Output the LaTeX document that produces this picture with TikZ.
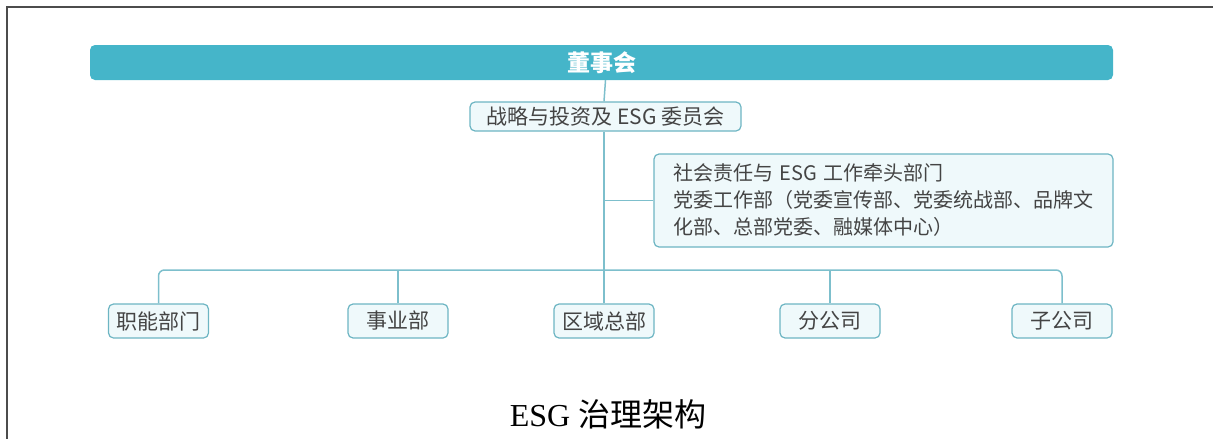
\documentclass[tikz,border=0pt]{standalone}
\usepackage{fontspec}
\setmainfont{Liberation Serif}
\newfontfamily\cjk{Noto Sans CJK SC}
\usepackage{tikz}
\usetikzlibrary{positioning}
\definecolor{barteal}{HTML}{45B5C9}
\definecolor{edgeteal}{HTML}{6DB5C3}
\definecolor{lineteal}{HTML}{7DBFCC}
\definecolor{boxfill}{HTML}{EFF9FB}
\definecolor{inktext}{HTML}{444444}

\begin{document}
\begin{tikzpicture}[x=1pt,y=-1pt,
    board/.style={draw=none,fill=barteal,rounded corners=5pt,minimum width=1023pt,
        minimum height=35pt,inner sep=0pt,text=white,font=\cjk\bfseries\fontsize{23}{26}\selectfont},
    unit/.style={draw=edgeteal,line width=1.2pt,fill=boxfill,rounded corners=5pt,
        minimum height=34pt,minimum width=100pt,inner sep=0pt,text=inktext,
        font=\cjk\fontsize{21}{24}\selectfont},
    link/.style={draw=lineteal,line width=1.5pt}]
    \useasboundingbox (0,0) rectangle (1213,439);
    % page frame
    \draw[line width=2pt,black!70] (7,439) -- (7,6.5) -- (1213,6.5);

    % Define the boxes
    \node[board] (dsh) at (601.5,62.5) {董事会};
    \node[unit,minimum width=271pt,minimum height=29pt] (cmte) at (605.5,116.5) {战略与投资及 ESG 委员会};
    \node[unit,minimum width=459pt,minimum height=93pt,text width=421pt,inner xsep=19pt,
        align=left,font=\cjk\fontsize{20}{27}\selectfont] (lead) at (883.5,200.5)
        {社会责任与 ESG 工作牵头部门\\党委工作部（党委宣传部、党委统战部、品牌文\\化部、总部党委、融媒体中心）};
    \node[unit] (func)   at (158.5,321) {职能部门};
    \node[unit] (biz)    at (398,321)   {事业部};
    \node[unit] (region) at (604,321)   {区域总部};
    \node[unit] (branch) at (830,321)   {分公司};
    \node[unit] (subco)  at (1062,321)  {子公司};
    \coordinate (hub) at (604,270);

    % Connect the boxes
    \draw[link] (dsh.south -| cmte.north) -- (cmte.north -| hub);
    \draw[link] (cmte.south -| hub) -- (hub);
    \draw[link] (lead.west) -- (lead.west -| hub);
    \draw[link,rounded corners=6pt] (func.north) |- (hub) -| (subco.north);
    \draw[link] (biz.north) -- (biz.north |- hub);
    \draw[link] (region.north) -- (hub);
    \draw[link] (branch.north) -- (branch.north |- hub);

    % caption
    \node[font=\fontsize{32}{36}\selectfont] (cap) at (608,414) {ESG {\cjk 治理架构}};
\end{tikzpicture}
\end{document}
